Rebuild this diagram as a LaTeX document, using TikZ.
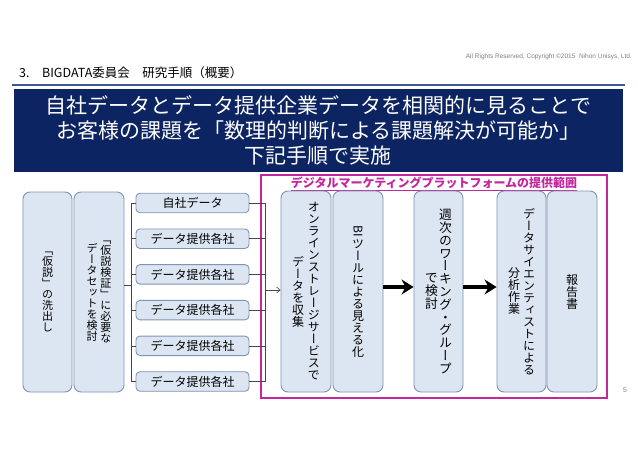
\documentclass[tikz,border=0pt]{standalone}
\usepackage{graphicx}
\usepackage{fontspec}
\setmainfont{Noto Sans CJK JP}
\newfontfamily\jpv[RawFeature=+vert]{Noto Sans CJK JP}
\newfontfamily\lsans{Liberation Sans}
\usetikzlibrary{arrows.meta}
\definecolor{boxfill}{RGB}{220,230,242}
\definecolor{boxline}{RGB}{128,148,178}
\definecolor{navy}{RGB}{12,36,97}
\definecolor{rule}{RGB}{60,90,140}
\definecolor{mag}{RGB}{196,38,158}
\definecolor{conncol}{RGB}{70,70,70}
\ExplSyntaxOn
\NewDocumentCommand \vcol { m }
  {
    \vbox:n
      {
        \jpv
        \baselineskip = 1.0em \relax
        \lineskiplimit = -\maxdimen
        \tl_map_inline:nn {#1} { \hbox_to_wd:nn {1em} { \hss ##1 \hss } }
      }
  }
\NewDocumentCommand \vtwo { m m m }
  {
    \hbox:n { $\vcenter{\vcol{#2}}$ \skip_horizontal:n {#1} $\vcenter{\vcol{#3}}$ }
  }
\ExplSyntaxOff
\tikzset{
  tallbox/.style={draw=boxline, fill=boxfill, line width=0.9pt, rounded corners=7pt,
    minimum width=50pt, minimum height=201pt, inner sep=0pt},
  smallbox/.style={draw=boxline, fill=boxfill, line width=0.9pt, rounded corners=4pt,
    minimum width=113pt, minimum height=19.5pt, inner sep=0pt,
    font=\fontsize{12}{14}\selectfont},
  conn/.style={draw=conncol, line width=0.6pt},
  bigarrow/.style={line width=3.2pt, -{Stealth[length=12pt,width=15pt,inset=4pt]}},
}
\begin{document}
\begin{tikzpicture}[x=1pt,y=-1pt]
\useasboundingbox[fill=white] (0,0) rectangle (638,451);
% header
\node[anchor=east, inner sep=0pt, text=gray, font=\lsans\fontsize{6.5}{8}\selectfont] (copy) at (632,57)
  {All Rights Reserved, Copyright \textcopyright2015\ \ Nihon Unisys, Ltd.};
\node[anchor=west, inner sep=0pt, font=\fontsize{12.5}{14}\selectfont] (title) at (19,73)
  {3.　BIGDATA委員会　研究手順（概要）};
\draw[rule, line width=1.5pt] (12,85) -- (625,85);
\node[fill=navy, text=white, minimum width=609pt, minimum height=83pt, inner sep=0pt,
  align=center, font=\fontsize{21}{25}\selectfont] (nav) at (318.5,130.5)
  {自社データとデータ提供企業データを相関的に見ることで\\お客様の課題を「数理的判断による課題解決が可能か」\\下記手順で実施};
% left boxes
\node[tallbox, minimum width=49pt, minimum height=200pt, font=\fontsize{11}{13}\selectfont] (L1) at (47.5,292)
  {\vcol{「仮説」の洗出し}};
\node[tallbox, minimum height=200pt, font=\fontsize{11}{13}\selectfont] (L2) at (99,292)
  {\vtwo{0.27em}{データセットを検討}{「仮説検証」に必要な}};
% small boxes
\node[smallbox] (s1) at (192.5,203) {自社データ};
\node[smallbox] (s2) at (192.5,238.7) {データ提供各社};
\node[smallbox] (s3) at (192.5,274.4) {データ提供各社};
\node[smallbox] (s4) at (192.5,310.1) {データ提供各社};
\node[smallbox] (s5) at (192.5,345.8) {データ提供各社};
\node[smallbox] (s6) at (192.5,381.5) {データ提供各社};
% magenta frame
\node[draw=mag, line width=2pt, minimum width=346pt, minimum height=223pt, inner sep=0pt] (frame) at (434,286.5) {};
\node[text=mag, inner sep=0pt, font=\bfseries\fontsize{12}{14}\selectfont] (mt) at (434,184)
  {\underline{デジタルマーケティングプラットフォームの提供範囲}};
% tall boxes on the right
\node[tallbox, font=\fontsize{12}{14}\selectfont] (A) at (306,291.5)
  {\vtwo{0.33em}{データを収集}{オンラインストレージサービスで}};
\node[tallbox, font=\fontsize{12}{14}\selectfont] (B) at (358,291.5)
  {\vcol{{\rotatebox[origin=c]{-90}{BI}}ツールによる見える化}};
\node[tallbox, minimum width=49pt, font=\fontsize{12.8}{14}\selectfont] (C) at (438.5,291.5)
  {\vtwo{0.1em}{で検討}{週次のワーキング・グループ}};
\node[tallbox, minimum width=49pt, font=\fontsize{12}{14}\selectfont] (D) at (521.5,291.5)
  {\vtwo{0.25em}{分析作業}{データサイエンティストによる}};
\node[tallbox, font=\fontsize{12}{14}\selectfont] (E) at (572,291.5)
  {\vcol{報告書}};
% connectors left bracket
\coordinate (bl) at (131,285);
\draw[conn] (L2.east |- bl) -- (bl);
\draw[conn] (bl |- s1.west) -- (bl |- s6.west);
\foreach \i in {1,...,6} {\draw[conn] (bl |- s\i.west) -- (s\i.west);}
% connectors right bracket
\coordinate (br) at (265,290);
\foreach \i in {1,...,6} {\draw[conn] (s\i.east) -- (br |- s\i.east);}
\draw[conn] (br |- s1.east) -- (br |- s6.east);
\draw[conn, -{Straight Barb[length=3.5pt,width=6pt]}] (br) -- (A.west |- br);
% thick arrows
\coordinate (ay) at (0,287);
\draw[bigarrow] (B.east |- ay) -- (C.west |- ay);
\draw[bigarrow] (C.east |- ay) -- (D.west |- ay);
% page number
\node[text=gray, inner sep=0pt, font=\lsans\fontsize{7}{8}\selectfont] (pg) at (625,390) {5};
\end{tikzpicture}
\end{document}
